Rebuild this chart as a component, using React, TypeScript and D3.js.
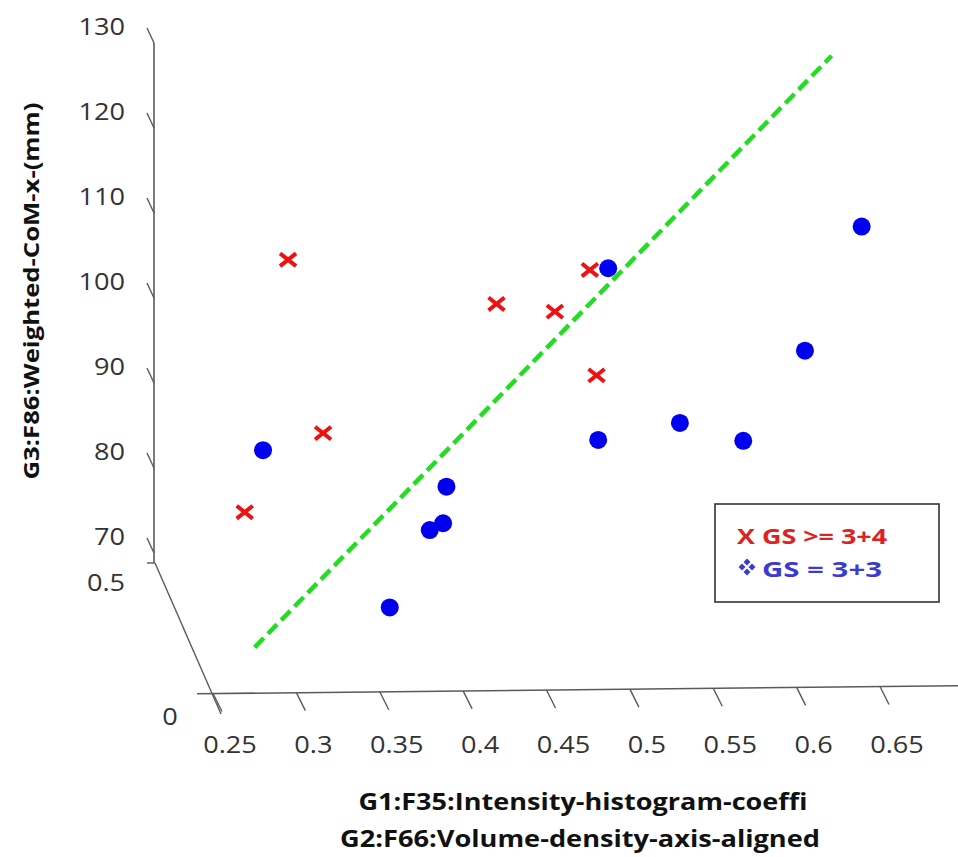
import React from "react";
import * as d3 from "d3";

// Apparent (projected) G1 / G3 values
const redG1 = [0.295, 0.420, 0.455, 0.476, 0.480, 0.316, 0.269];
const redG3 = [104.5, 99.3, 98.4, 103.3, 90.9, 84.1, 74.8];
const blueG1 = [0.487, 0.280, 0.390, 0.388, 0.380, 0.356, 0.481, 0.530, 0.568, 0.605, 0.639];
const blueG3 = [103.5, 82.1, 77.8, 73.5, 72.7, 63.6, 83.3, 85.3, 83.2, 93.8, 108.4];
const lineG1 = [0.275, 0.621];
const lineG3 = [58.9, 128.5];

const xTicks = [0.25, 0.3, 0.35, 0.4, 0.45, 0.5, 0.55, 0.6, 0.65];
const zTicks = [70, 80, 90, 100, 110, 120, 130];
const g2Ticks = [0, 0.5];

const xLabel1 = "G1:F35:Intensity-histogram-coeffi";
const xLabel2 = "G2:F66:Volume-density-axis-aligned";
const zLabel = "G3:F86:Weighted-CoM-x-(mm)";
const legendItems = ["X GS >= 3+4", "GS = 3+3"];

const W = 958;
const H = 857;
const SX = 1.18; // horizontal stretch of the original picture's text

export default function App() {
  const x = d3.scaleLinear().domain([0.25, 0.65]).range([213, 880]);
  const z = d3.scaleLinear().domain([70, 130]).range([553, 43]);
  // x-axis baseline slopes slightly upward to the right
  const xBase = d3.scaleLinear().domain([0.25, 0.65]).range([693.5, 686.5]);
  // G2 oblique axis: screen position along the floor edge
  const g2x = d3.scaleLinear().domain([0, 0.5]).range([221, 155]);
  const g2y = d3.scaleLinear().domain([0, 0.5]).range([714, 563]);

  const axisColor = "#5a5a5a";
  const tickFont = "'Open Sans', Lato, sans-serif";
  const zAxisX = 154;

  const line = d3
    .line<number>()
    .x((_, i) => x(lineG1[i]))
    .y((_, i) => z(lineG3[i]));

  const Label = ({ px, py, anchor, children }: { px: number; py: number; anchor: string; children: React.ReactNode }) => (
    <g transform={`translate(${px},${py}) scale(${SX},1)`}>
      <text textAnchor={anchor} dominantBaseline="central" fontFamily={tickFont} fontSize={23} fill="#333">
        {children}
      </text>
    </g>
  );

  const xs = 8; // cross half-size
  return (
    <svg width={W} height={H} style={{ display: "block", position: "absolute", left: 0, top: 0 }}>
      <rect width={W} height={H} fill="#fff" />
      {/* vertical G3 axis */}
      <line x1={zAxisX} y1={z(130)} x2={zAxisX} y2={g2y(0.5)} stroke={axisColor} strokeWidth={1.6} />
      {zTicks.map((t) => (
        <g key={"z" + t}>
          <line x1={zAxisX} y1={z(t)} x2={zAxisX - 7} y2={z(t) - 15} stroke={axisColor} strokeWidth={1.4} />
          <Label px={125} py={z(t) - 17} anchor="end">
            {t}
          </Label>
        </g>
      ))}
      {/* oblique G2 axis */}
      <line x1={g2x(0.5)} y1={g2y(0.5)} x2={g2x(0)} y2={g2y(0)} stroke={axisColor} strokeWidth={1.4} />
      <line x1={g2x(0.5) - 8} y1={g2y(0.5)} x2={g2x(0.5)} y2={g2y(0.5)} stroke={axisColor} strokeWidth={1.4} />
      {g2Ticks.map((t) => (
        <Label key={"g2" + t} px={t === 0.5 ? 106 : 170} py={t === 0.5 ? 582 : 716} anchor="middle">
          {t}
        </Label>
      ))}
      {/* G1 axis */}
      <line x1={197} y1={xBase(0.25) + 0.3} x2={W} y2={xBase(x.invert(W))} stroke={axisColor} strokeWidth={1.6} />
      {xTicks.map((t) => (
        <g key={"x" + t}>
          <line x1={x(t)} y1={xBase(t)} x2={x(t) + 9} y2={xBase(t) + 18} stroke={axisColor} strokeWidth={1.4} />
          <Label px={x(t) + 17} py={744} anchor="middle">
            {t}
          </Label>
        </g>
      ))}
      {/* axis titles */}
      <text x={583} y={801} textAnchor="middle" dominantBaseline="central" fontFamily={tickFont} fontWeight="bold" fontSize={23} textLength={449} lengthAdjust="spacingAndGlyphs" fill="#111">
        {xLabel1}
      </text>
      <text x={580} y={838} textAnchor="middle" dominantBaseline="central" fontFamily={tickFont} fontWeight="bold" fontSize={23} textLength={480} lengthAdjust="spacingAndGlyphs" fill="#111">
        {xLabel2}
      </text>
      <text
        transform="translate(30,291) rotate(-90)"
        textAnchor="middle"
        dominantBaseline="central"
        fontFamily={tickFont}
        fontWeight="bold"
        fontSize={22}
        textLength={377}
        lengthAdjust="spacingAndGlyphs"
        fill="#111"
      >
        {zLabel}
      </text>
      {/* dashed separating line */}
      <path d={line(lineG1) || ""} fill="none" stroke="#22dd22" strokeWidth={4.5} strokeDasharray="13,6" />
      {/* red crosses */}
      {redG1.map((v, i) => {
        const cx = x(v);
        const cy = z(redG3[i]);
        return (
          <path
            key={"r" + i}
            d={`M${cx - xs},${cy - xs * 0.8}L${cx + xs},${cy + xs * 0.8}M${cx - xs},${cy + xs * 0.8}L${cx + xs},${cy - xs * 0.8}`}
            stroke="#ee1111"
            strokeWidth={4}
          />
        );
      })}
      {/* blue dots */}
      {blueG1.map((v, i) => (
        <circle key={"b" + i} cx={x(v)} cy={z(blueG3[i])} r={9} fill="#0000ee" />
      ))}
      {/* legend */}
      <rect x={715} y={504} width={224} height={98} fill="#fff" stroke="#333" strokeWidth={1.6} />
      <text x={737} y={535} dominantBaseline="central" fontFamily={tickFont} fontWeight="bold" fontSize={22} textLength={150} lengthAdjust="spacingAndGlyphs" fill="#dd2222">
        {legendItems[0]}
      </text>
      <g fill="#3b3bd0">
        {[
          [0, -5],
          [-5, 0],
          [5, 0],
          [0, 5],
        ].map(([dx, dy], i) => (
          <path key={"d" + i} d={`M${747 + dx},${567 + dy - 3.5}L${747 + dx + 3.5},${567 + dy}L${747 + dx},${567 + dy + 3.5}L${747 + dx - 3.5},${567 + dy}Z`} />
        ))}
      </g>
      <text x={762} y={568} dominantBaseline="central" fontFamily={tickFont} fontWeight="bold" fontSize={22} textLength={120} lengthAdjust="spacingAndGlyphs" fill="#3b3bd0">
        {legendItems[1]}
      </text>
    </svg>
  );
}
